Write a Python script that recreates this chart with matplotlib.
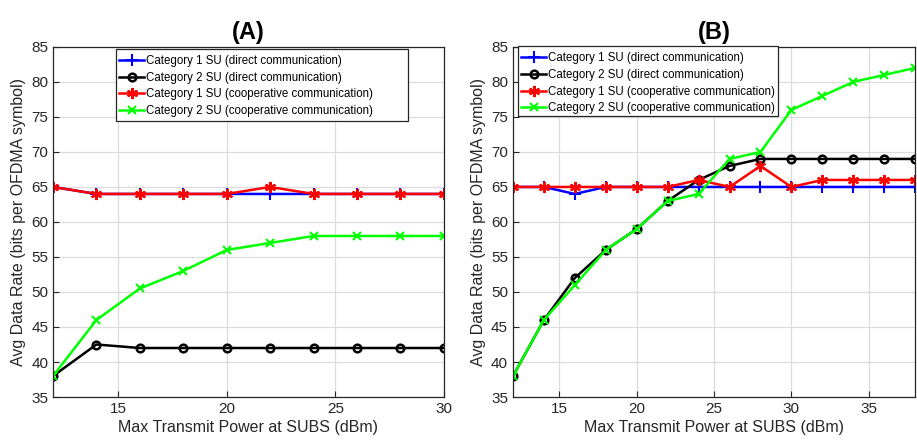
import matplotlib
matplotlib.use("Agg")
import matplotlib.pyplot as plt
from matplotlib.patches import Rectangle

plt.rcParams['font.family'] = ['Liberation Sans', 'DejaVu Sans']

xA = [12, 14, 16, 18, 20, 22, 24, 26, 28, 30]
a_cat1_direct = [65, 64, 64, 64, 64, 64, 64, 64, 64, 64]
a_cat2_direct = [38, 42.5, 42, 42, 42, 42, 42, 42, 42, 42]
a_cat1_coop = [65, 64, 64, 64, 64, 65, 64, 64, 64, 64]
a_cat2_coop = [38, 46, 50.5, 53, 56, 57, 58, 58, 58, 58]

xB = [12, 14, 16, 18, 20, 22, 24, 26, 28, 30, 32, 34, 36, 38]
b_cat1_direct = [65, 65, 64, 65, 65, 65, 65, 65, 65, 65, 65, 65, 65, 65]
b_cat2_direct = [38, 46, 52, 56, 59, 63, 66, 68, 69, 69, 69, 69, 69, 69]
b_cat1_coop = [65, 65, 65, 65, 65, 65, 66, 65, 68, 65, 66, 66, 66, 66]
b_cat2_coop = [38, 46, 51, 56, 59, 63, 64, 69, 70, 76, 78, 80, 81, 82]

labels = ["Category 1 SU (direct communication)",
          "Category 2 SU (direct communication)",
          "Category 1 SU (cooperative communication)",
          "Category 2 SU (cooperative communication)"]

asterisk = (6, 2, 0)
styles = [dict(color='#0000ff', marker='+', ms=8, mew=1.5),
          dict(color='#000000', marker='o', ms=5.5, mfc='none', mew=1.8),
          dict(color='#ff0000', marker=asterisk, ms=8, mew=1.5),
          dict(color='#00ff00', marker='x', ms=6, mew=1.5)]

fig = plt.figure(figsize=(9.17, 4.43), dpi=100)
axA = fig.add_axes([0.0578, 0.1038, 0.4262, 0.7903])
axB = fig.add_axes([0.5594, 0.1038, 0.4386, 0.7903])

def draw(ax, x, series, title, xticks, xlim, box):
    for ys, st, lab in zip(series, styles, labels):
        ax.plot(x, ys, lw=1.8, label=lab, **st)
    ax.set_xlim(*xlim)
    ax.set_ylim(35, 85)
    ax.set_xticks(xticks)
    ax.set_yticks(range(35, 90, 5))
    ax.grid(True, color='#dcdcdc', lw=0.9)
    ax.set_axisbelow(True)
    ax.tick_params(direction='in', labelsize=11, colors='#262626', length=4)
    for s in ax.spines.values():
        s.set_color('#262626')
        s.set_linewidth(0.9)
    ax.set_xlabel('Max Transmit Power at SUBS (dBm)', fontsize=11.5, color='#262626', labelpad=3)
    ax.set_ylabel('Avg Data Rate (bits per OFDMA symbol)', fontsize=11.5, color='#262626', labelpad=4)
    ax.set_title(title, fontsize=17, fontweight='bold', pad=6)
    x0, y0, x1, y1 = box
    ax.add_patch(Rectangle((x0, y0), x1 - x0, y1 - y0, transform=ax.transAxes, clip_on=False,
                           facecolor='white', edgecolor='#262626', lw=0.9, zorder=4.9))
    leg = ax.legend(loc='upper left', bbox_to_anchor=(x0, y1 - 0.008), fontsize=8.3,
                    frameon=False, handlelength=2.15,
                    borderpad=0.3, labelspacing=0.4, handletextpad=0.12, borderaxespad=0)
    leg.set_zorder(5)

draw(axA, xA, [a_cat1_direct, a_cat2_direct, a_cat1_coop, a_cat2_coop], '(A)',
     [15, 20, 25, 30], (12, 30), (0.161, 0.789, 0.908, 0.994))
draw(axB, xB, [b_cat1_direct, b_cat2_direct, b_cat1_coop, b_cat2_coop], '(B)',
     [15, 20, 25, 30, 35], (12, 38), (0.0124, 0.802, 0.659, 1.002))

fig.savefig('out.png', dpi=100)
